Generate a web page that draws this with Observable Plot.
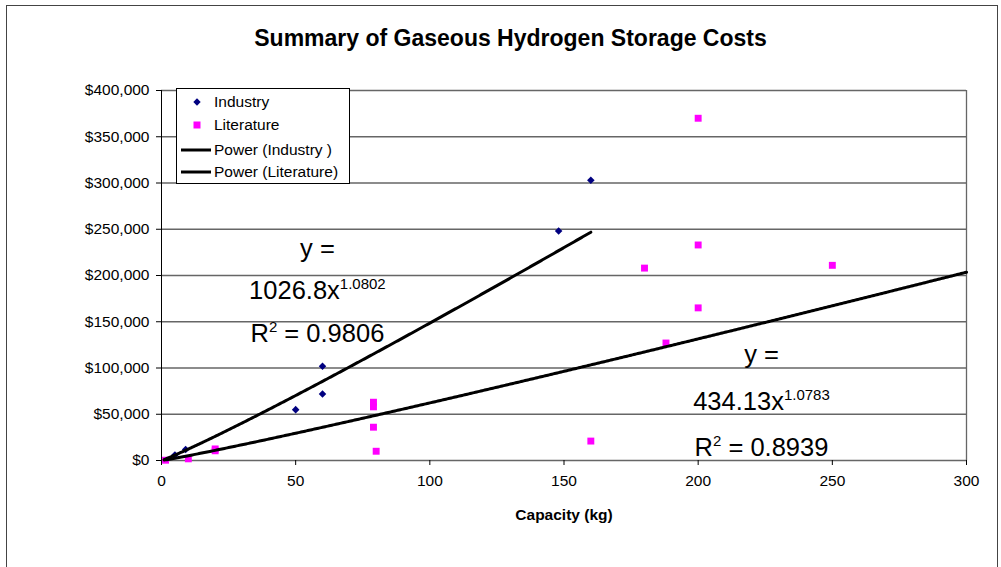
<!DOCTYPE html>
<html>
<head>
<meta charset="utf-8">
<script src="https://cdn.jsdelivr.net/npm/d3@7"></script>
<script src="https://cdn.jsdelivr.net/npm/@observablehq/plot@0.6"></script>
<style>
  html, body { margin: 0; padding: 0; background: #fff; overflow: hidden; }
  #wrap { position: relative; width: 1001px; height: 567px; overflow: hidden; font-family: "Liberation Sans", Arial, sans-serif; }
  #frame { position: absolute; left: 6px; top: 5px; width: 992px; height: 620px; border: 1px solid #444; box-sizing: border-box; pointer-events: none; }
  #chart { position: absolute; left: 0; top: 0; }
  #legend { position: absolute; left: 176px; top: 88px; width: 174px; height: 96px; border: 1px solid #000; background: #fff; box-sizing: border-box; font-size: 15.5px; color: #000; }
  .row { position: absolute; left: 0; height: 20px; width: 100%; }
  .row svg { position: absolute; left: 0; top: 0; }
  .row span { position: absolute; left: 37px; top: 1px; line-height: 18px; white-space: nowrap; }
</style>
</head>
<body>
<div id="wrap">
  <div id="chart"></div>
  <div id="legend"></div>
  <div id="frame"></div>
</div>
<script>
// ---- data ----
const industryX = [5, 9, 50, 60, 60, 148, 160];
const industryY = [6000, 12000, 55000, 72000, 102000, 248000, 303000];

const literatureX = [1.5, 10, 20, 20, 79, 79, 79, 80, 160, 180, 188, 200, 200, 200, 250];
const literatureY = [300, 1800, 10500, 12500, 58000, 63000, 36000, 10000, 21000, 208000, 127000, 370000, 233000, 165000, 211000];

const seriesNames = ["Industry", "Literature", "Power (Industry )", "Power (Literature)"];

// fitted power trendlines y = a * x^b as printed on the chart
const industryFit = { a: 1026.8, b: 1.0802, r2: 0.9806, xMin: 1, xMax: 160 };
const literatureFit = { a: 434.13, b: 1.0783, r2: 0.8939, xMin: 1, xMax: 300 };

const xTicks = [0, 50, 100, 150, 200, 250, 300];
const yTicks = [0, 50000, 100000, 150000, 200000, 250000, 300000, 350000, 400000];

const title = "Summary of Gaseous Hydrogen Storage Costs";
const xLabel = "Capacity (kg)";

// ---- build ----
const industry = industryX.map((x, i) => ({ x, y: industryY[i] }));
const literature = literatureX.map((x, i) => ({ x, y: literatureY[i] }));
const fitLine = f => d3.range(f.xMin, f.xMax + 1e-9, 0.5).map(x => ({ x, y: f.a * Math.pow(x, f.b) }));

const eqLines = f => ["y =", `${f.a}x^{${f.b}}`, `R^{2} = ${f.r2}`];
const annotations = [
  ...eqLines(industryFit).map((text, i) => ({ text, x: 58.1, y: [219500, 175100, 127600][i] })),
  ...eqLines(literatureFit).map((text, i) => ({ text, x: 223.6, y: [104900, 54100, 5400][i] }))
];

const FONT = "'Liberation Sans', Arial, sans-serif";

const plot = Plot.plot({
  width: 1001,
  height: 567,
  marginLeft: 161,
  marginRight: 35,
  marginTop: 90,
  marginBottom: 107,
  x: { domain: [0, 300] },
  y: { domain: [0, 400000] },
  style: { fontFamily: FONT, fontSize: "15.5px", color: "#000", background: "transparent", overflow: "visible" },
  marks: [
    Plot.gridY(yTicks, { stroke: "#666", strokeOpacity: 1, strokeWidth: 1.3 }),
    Plot.ruleX([300], { stroke: "#666", strokeWidth: 1.3 }),
    Plot.ruleX([0], { stroke: "#000", strokeWidth: 1 }),
    Plot.axisY({ ticks: yTicks, tickFormat: d => "$" + d3.format(",")(d), tickSize: 5, tickPadding: 7, label: null }),
    Plot.axisX({ ticks: xTicks, tickSize: 5, tickPadding: 9, label: null }),
    Plot.dot(industry, { x: "x", y: "y", symbol: "diamond2", fill: "#000080", stroke: null, r: 3.4 }),
    Plot.dot(literature, { x: "x", y: "y", symbol: "square", fill: "#ff00ff", stroke: null, r: 3.9 }),
    Plot.line(fitLine(industryFit), { x: "x", y: "y", stroke: "#000", strokeWidth: 3 }),
    Plot.line(fitLine(literatureFit), { x: "x", y: "y", stroke: "#000", strokeWidth: 3 }),
    Plot.text(annotations, { x: "x", y: "y", text: "text", lineAnchor: "bottom", textAnchor: "middle", fontSize: 25.5, fill: "#000" }),
    Plot.text([xLabel], { frameAnchor: "bottom", dy: 59, fontWeight: "bold", fontSize: 15.5, fill: "#000" }),
    Plot.text([title], { frameAnchor: "top", lineAnchor: "bottom", dx: -53.5, dy: -45, fontWeight: "bold", fontSize: 23, fill: "#000" })
  ]
});

// superscripts: "base^{sup}rest"
const NS = "http://www.w3.org/2000/svg";
plot.querySelectorAll("text").forEach(t => {
  if (t.querySelector("tspan")) return;
  const m = t.textContent.match(/^(.*?)\^\{(.*?)\}(.*)$/);
  if (!m) return;
  t.textContent = "";
  const a = document.createElementNS(NS, "tspan"); a.textContent = m[1]; t.appendChild(a);
  const b = document.createElementNS(NS, "tspan"); b.textContent = m[2];
  b.setAttribute("dy", "-10"); b.setAttribute("font-size", "15"); t.appendChild(b);
  if (m[3]) {
    const c = document.createElementNS(NS, "tspan"); c.textContent = m[3];
    c.setAttribute("dy", "10"); t.appendChild(c);
  }
});
document.getElementById("chart").appendChild(plot);

// legend
const legend = document.getElementById("legend");
const rowTops = [3, 26, 51, 73];
const glyphs = [
  '<svg width="36" height="20"><path d="M20,6.3L23.7,10L20,13.7L16.3,10Z" fill="#000080"/></svg>',
  '<svg width="36" height="20"><rect x="16.5" y="6.5" width="7" height="7" fill="#ff00ff"/></svg>',
  '<svg width="36" height="20"><line x1="4" x2="34" y1="10" y2="10" stroke="#000" stroke-width="3"/></svg>',
  '<svg width="36" height="20"><line x1="4" x2="34" y1="10" y2="10" stroke="#000" stroke-width="3"/></svg>'
];
seriesNames.forEach((name, i) => {
  const row = document.createElement("div");
  row.className = "row";
  row.style.top = rowTops[i] + "px";
  row.innerHTML = glyphs[i];
  const s = document.createElement("span");
  s.textContent = name;
  row.appendChild(s);
  legend.appendChild(row);
});
</script>
</body>
</html>
